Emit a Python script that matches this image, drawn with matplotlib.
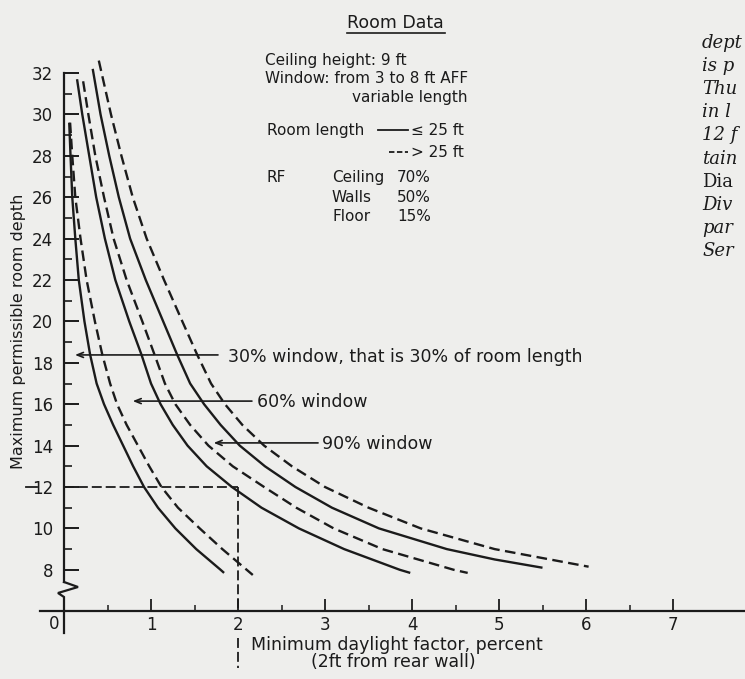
import matplotlib
matplotlib.use('Agg')
import matplotlib.pyplot as plt

# ---------------- data ----------------
# Maximum permissible room depth (ft) levels and the minimum daylight
# factor (%) at which each curve crosses them.
s30_y = [29.6, 28, 26, 24, 22, 20, 18.4, 17, 16, 15, 14, 13, 12, 11, 10, 9, 8, 7.85]
s30_x = [0.06, 0.075, 0.095, 0.13, 0.17, 0.235, 0.30, 0.375, 0.46, 0.565, 0.68, 0.795, 0.92,
         1.08, 1.28, 1.52, 1.80, 1.84]
d30_y = [29.6, 28, 26, 24, 22, 20, 18.4, 17, 16, 15, 14, 13, 12, 11, 10, 9, 8, 7.75]
d30_x = [0.07, 0.095, 0.13, 0.19, 0.26, 0.355, 0.44, 0.53, 0.61, 0.72, 0.85, 0.98, 1.12,
         1.31, 1.56, 1.82, 2.10, 2.17]
s60_y = [31.7, 30, 28, 26, 24, 22, 20, 18.4, 17, 16, 15, 14, 13, 12, 11, 10, 9, 8, 7.85]
s60_x = [0.15, 0.21, 0.29, 0.37, 0.47, 0.59, 0.75, 0.89, 1.00, 1.11, 1.25, 1.42, 1.64, 1.93,
         2.27, 2.70, 3.22, 3.86, 3.98]
d60_y = [31.6, 30, 28, 26, 24, 22, 20, 18.4, 17, 16, 15, 14, 13, 12, 11, 10, 9, 8, 7.85]
d60_x = [0.22, 0.28, 0.36, 0.46, 0.57, 0.72, 0.90, 1.04, 1.16, 1.28, 1.45, 1.66, 1.94, 2.30,
         2.67, 3.10, 3.66, 4.48, 4.64]
s90_y = [32.2, 30, 28, 26, 24, 22, 20, 18.4, 17, 16, 15, 14, 13, 12, 11, 10, 9, 8.5, 8.1]
s90_x = [0.33, 0.42, 0.52, 0.63, 0.76, 0.94, 1.14, 1.30, 1.45, 1.61, 1.80, 2.02, 2.31, 2.66,
         3.08, 3.62, 4.40, 4.95, 5.50]
d90_y = [32.6, 30, 28, 26, 24, 22, 20, 18.4, 17, 16, 15, 14, 13, 12, 11, 10, 9, 8.15]
d90_x = [0.40, 0.54, 0.66, 0.79, 0.95, 1.15, 1.36, 1.53, 1.69, 1.85, 2.05, 2.30, 2.62, 3.00,
         3.50, 4.10, 4.95, 6.03]

x_major = [1, 2, 3, 4, 5, 6, 7]
x_minor = [0.5, 1.5, 2.5, 3.5, 4.5, 5.5, 6.5]
y_major = list(range(8, 33, 2))
y_minor = list(range(9, 32, 2))

ref_df = 2      # example: 2 % daylight factor
ref_depth = 12  # -> 12 ft room depth

# annotation arrows: label, depth, tip x, tail x
ann_labels = ['30% window, that is 30% of room length', '60% window', '90% window']
ann_depth = [18.38, 16.15, 14.13]
ann_tip = [0.126, 0.79, 1.72]
ann_tail = [1.77, 2.16, 2.92]

right_lines = ['dept', 'is p', 'Thu', 'in l', '12 f', 'tain', 'Dia', 'Div', 'par', 'Ser']
right_styles = ['italic'] * 6 + ['normal'] + ['italic'] * 3

# ---------------- layout helpers (pixel -> data) ----------------
W, H = 745, 679
X0, XS = 64.0, 87.0
Y0, YS = 73.0, 20.7


def px(p):
    return (p - X0) / XS


def py(p):
    return 32 - (p - Y0) / YS


ink = '#1b1b1b'
bg = '#eeeeec'

fig = plt.figure(figsize=(W / 100, H / 100), dpi=100)
fig.patch.set_facecolor(bg)
ax = fig.add_axes([0, 0, 1, 1])
ax.set_facecolor(bg)
ax.set_xlim(px(0), px(W))
ax.set_ylim(py(H), py(0))

dash = (0, (4.5, 2.3))
lw_c = 1.7
for xs, ys, ls in [(s30_x, s30_y, '-'), (d30_x, d30_y, dash),
                   (s60_x, s60_y, '-'), (d60_x, d60_y, dash),
                   (s90_x, s90_y, '-'), (d90_x, d90_y, dash)]:
    ax.plot(xs, ys, color=ink, lw=lw_c, ls=ls, solid_capstyle='butt',
            solid_joinstyle='round', dash_joinstyle='round')

# ---------------- axes ----------------
for s in ['top', 'right']:
    ax.spines[s].set_visible(False)
ax.spines['left'].set_position(('data', 0))
ax.spines['left'].set_bounds(py(582), 32)
ax.spines['bottom'].set_position(('data', py(611)))
ax.spines['bottom'].set_bounds(px(40), px(W))
for s in ['left', 'bottom']:
    ax.spines[s].set_linewidth(1.6)
    ax.spines[s].set_color(ink)

# axis break + extension below the x axis
ax.plot([0, px(78), px(58), 0, 0],
        [py(582), py(587), py(593), py(597), py(633)],
        color=ink, lw=1.6, clip_on=False, solid_joinstyle='miter')

ax.set_xticks(x_major)
ax.set_xticks(x_minor, minor=True)
ax.set_yticks(y_major)
ax.set_yticks(y_minor, minor=True)
ax.set_xticklabels([str(v) for v in x_major])
ax.set_yticklabels([str(v) for v in y_major])
ax.tick_params(axis='x', which='major', direction='in', length=8.5, width=1.3,
               pad=3.5, labelsize=12, colors=ink)
ax.tick_params(axis='x', which='minor', direction='in', length=4.5, width=1.1,
               colors=ink)
ax.tick_params(axis='y', which='major', direction='in', length=11, width=1.4,
               pad=8, labelsize=12, colors=ink)
ax.tick_params(axis='y', which='minor', direction='in', length=6, width=1.2,
               colors=ink)
ax.text(px(54), py(624), '0', ha='center', va='center', fontsize=12, color=ink)

ax.text(px(397), py(650), 'Minimum daylight factor, percent', ha='center',
        va='baseline', fontsize=12.5, color=ink)
ax.text(px(393), py(667), '(2ft from rear wall)', ha='center',
        va='baseline', fontsize=12.5, color=ink)
ax.text(px(19), py(331), 'Maximum permissible room depth', rotation=90,
        ha='center', va='center', fontsize=11.5, color=ink)

# reference dashed lines (2 % -> 12 ft)
rdash = (0, (5.5, 2.2))
ax.plot([0, ref_df], [ref_depth, ref_depth], color=ink, lw=1.3, ls=rdash)
ax.plot([px(26), px(37)], [ref_depth, ref_depth], color=ink, lw=1.3)
ax.plot([ref_df, ref_df], [ref_depth, py(611)], color=ink, lw=1.3, ls=rdash)
ax.plot([ref_df, ref_df], [py(638), py(668)], color=ink, lw=1.3, ls=rdash,
        clip_on=False)

# annotation arrows and labels
text_left = [px(228), px(257), px(322)]
text_base = [py(362), py(407), py(449)]
for lab, yv, tip, tail, tx, tb in zip(ann_labels, ann_depth, ann_tip, ann_tail,
                                      text_left, text_base):
    ax.annotate('', xy=(tip, yv), xytext=(tail, yv),
                arrowprops=dict(arrowstyle='->,head_length=0.45,head_width=0.18',
                                lw=1.2, color=ink, shrinkA=0, shrinkB=0))
    ax.text(tx, tb, lab, ha='left', va='baseline', fontsize=12.5, color=ink)

# ---------------- Room data block ----------------
ax.text(px(347), py(28), 'Room Data', fontsize=12.5, va='baseline', color=ink)
ax.plot([px(347), px(445)], [py(32.5), py(32.5)], color=ink, lw=1.2)
fs = 11
ax.text(px(265), py(65), 'Ceiling height: 9 ft', fontsize=fs, va='baseline', color=ink)
ax.text(px(265), py(83), 'Window: from 3 to 8 ft AFF', fontsize=fs, va='baseline', color=ink)
ax.text(px(352), py(102), 'variable length', fontsize=fs, va='baseline', color=ink)
ax.text(px(267), py(135), 'Room length', fontsize=fs, va='baseline', color=ink)
ax.plot([px(378), px(408)], [py(130), py(130)], color=ink, lw=1.3)
ax.text(px(411), py(135), '≤ 25 ft', fontsize=fs, va='baseline', color=ink)
ax.plot([px(389), px(408)], [py(152), py(152)], color=ink, lw=1.3, ls=(0, (3, 1.4)))
ax.text(px(411), py(157), '> 25 ft', fontsize=fs, va='baseline', color=ink)
ax.text(px(267), py(182), 'RF', fontsize=fs, va='baseline', color=ink)
for name, val, b in [('Ceiling', '70%', 182), ('Walls', '50%', 202), ('Floor', '15%', 221)]:
    ax.text(px(332), py(b), name, fontsize=fs, va='baseline', color=ink)
    ax.text(px(397), py(b), val, fontsize=fs, va='baseline', color=ink)

# ---------------- cut-off page text at right ----------------
for i, (t, st) in enumerate(zip(right_lines, right_styles)):
    ax.text(px(702), py(48 + 23.1 * i), t, fontsize=13, va='baseline',
            family='DejaVu Serif', style=st, color=ink)

fig.savefig('out.png', dpi=100, facecolor=bg)
